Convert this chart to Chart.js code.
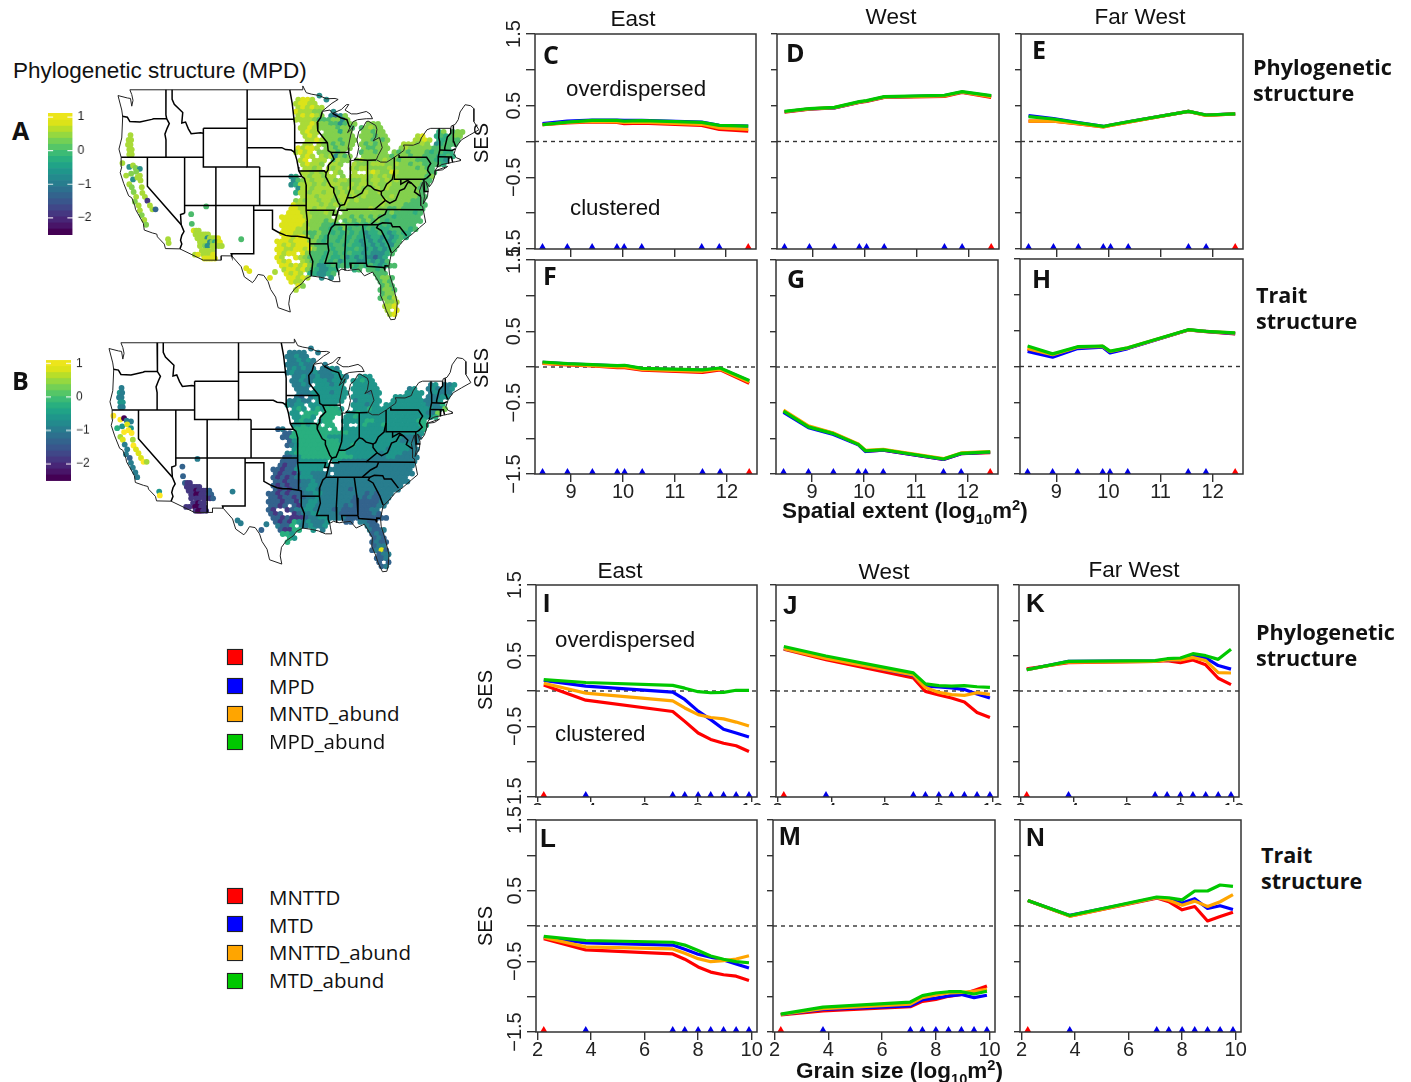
<!DOCTYPE html>
<html><head><meta charset="utf-8">
<script src="https://cdn.jsdelivr.net/npm/chart.js@4"></script>
<style>
html,body{margin:0;padding:0;background:#fff;width:1411px;height:1082px;overflow:hidden}
canvas{position:absolute;display:block}
.t{position:absolute;white-space:nowrap;color:#111;line-height:1;transform:translateY(-50%)}
.r{position:absolute;white-space:nowrap;color:#111;line-height:1;transform:translate(-50%,-50%) rotate(-90deg)}
.s{position:absolute;width:14px;height:14px;border:1.5px solid #222;box-shadow:0 0 1px #999}
sub,sup{font-size:65%;line-height:0}
</style></head><body>
<script>
// ---------- line panels: x positions ----------
const EXTENT_X=[8.45,8.93,9.41,9.89,10.03,10.37,11.53,11.87,12.43];
const GRAIN_X=[2.23,3.8,7.05,7.5,8,8.47,8.95,9.42,9.9];
const EXTENT_TICK_COLORS=['b','b','b','b','b','b','b','b','r'];
const GRAIN_TICK_COLORS=['r','b','b','b','b','b','b','b','b'];
// ---------- series: red, blue, orange, green ----------
const C_red=[.235,.26,.275,.265,.25,.255,.225,.17,.145];
const C_blue=[.25,.285,.30,.30,.295,.295,.27,.225,.215];
const C_orange=[.235,.265,.28,.275,.265,.27,.24,.19,.17];
const C_green=[.234,.27,.295,.295,.285,.29,.266,.224,.215];
const D_red=[.41,.45,.47,.545,.56,.615,.63,.685,.615];
const D_blue=[.415,.455,.47,.55,.565,.62,.64,.69,.635];
const D_orange=[.415,.455,.473,.55,.565,.62,.635,.69,.625];
const D_green=[.42,.46,.477,.556,.57,.626,.645,.696,.64];
const E_red=[.285,.285,.245,.205,.225,.27,.42,.365,.385];
const E_blue=[.36,.32,.265,.21,.23,.276,.42,.37,.385];
const E_orange=[.285,.285,.25,.205,.225,.27,.42,.365,.385];
const E_green=[.348,.314,.262,.21,.23,.276,.42,.37,.385];
const F_red=[.05,.03,.015,-.01,-.01,-.045,-.075,-.04,-.23];
const F_blue=[.065,.045,.03,.015,.02,-.025,-.045,-.02,-.195];
const F_orange=[.055,.035,.02,0,0,-.035,-.06,-.03,-.21];
const F_green=[.07,.047,.033,.02,.024,-.02,-.04,-.014,-.19];
const G_red=[-.615,-.835,-.93,-1.085,-1.18,-1.165,-1.295,-1.215,-1.2];
const G_blue=[-.635,-.85,-.945,-1.09,-1.185,-1.165,-1.295,-1.215,-1.195];
const G_orange=[-.605,-.825,-.925,-1.08,-1.17,-1.155,-1.285,-1.205,-1.185];
const G_green=[-.62,-.84,-.934,-1.085,-1.175,-1.16,-1.29,-1.21,-1.19];
const H_red=[.24,.16,.26,.28,.20,.255,.51,.485,.455];
const H_blue=[.21,.13,.25,.27,.19,.25,.51,.49,.46];
const H_orange=[.25,.165,.27,.28,.21,.26,.51,.49,.465];
const H_green=[.286,.176,.276,.286,.214,.262,.514,.49,.47];
const I_red=[.085,-.13,-.29,-.43,-.595,-.685,-.74,-.775,-.857];
const I_blue=[.15,.07,-.015,-.12,-.285,-.405,-.54,-.595,-.65];
const I_orange=[.11,-.03,-.14,-.24,-.335,-.375,-.395,-.44,-.495];
const I_green=[.16,.12,.08,.04,-.01,-.025,-.02,.01,.01];
const J_red=[.59,.443,.186,-.005,-.057,-.1,-.157,-.305,-.376];
const J_blue=[.60,.47,.22,.067,.057,.043,.02,-.043,-.1];
const J_orange=[.60,.46,.228,.048,-.02,-.052,-.062,-.024,-.048];
const J_green=[.63,.495,.257,.10,.076,.07,.076,.06,.05];
const K_red=[.315,.40,.42,.43,.40,.44,.37,.18,.09];
const K_blue=[.30,.42,.425,.44,.445,.505,.47,.36,.31];
const K_orange=[.30,.41,.42,.44,.44,.475,.43,.26,.255];
const K_green=[.30,.42,.43,.457,.467,.528,.50,.448,.59];
const L_red=[-.18,-.338,-.395,-.47,-.58,-.652,-.69,-.71,-.77];
const L_blue=[-.157,-.238,-.27,-.33,-.40,-.44,-.48,-.538,-.595];
const L_orange=[-.162,-.295,-.324,-.386,-.462,-.505,-.49,-.467,-.42];
const L_green=[-.148,-.205,-.23,-.27,-.348,-.424,-.47,-.505,-.52];
const M_red=[-1.257,-1.2,-1.143,-1.067,-1.038,-.995,-.967,-.914,-.848];
const M_blue=[-1.252,-1.18,-1.13,-1.043,-1.02,-.99,-.97,-1.014,-.98];
const M_orange=[-1.252,-1.17,-1.105,-1.014,-.976,-.948,-.938,-.924,-.895];
const M_green=[-1.248,-1.148,-1.076,-.986,-.948,-.93,-.93,-.962,-.924];
const N_red=[.36,.14,.395,.345,.229,.276,.071,.133,.195];
const N_blue=[.362,.15,.40,.37,.324,.386,.248,.286,.233];
const N_orange=[.36,.14,.40,.365,.295,.352,.276,.343,.443];
const N_green=[.362,.148,.41,.40,.37,.495,.495,.58,.56];
const Y_TICK_LABELS={'1.5':'1.5','0.5':'0.5','-0.5':'−0.5','-1.5':'−1.5'};
const LEGEND_PHYLO=['MNTD','MPD','MNTD_abund','MPD_abund'];
const LEGEND_TRAIT=['MNTTD','MTD','MNTTD_abund','MTD_abund'];
const SERIES_COLORS={red:'#ff0000',blue:'#0000ff',orange:'#ffa500',green:'#00c800'};

// ---------- map data (lon / lat) ----------
const COAST=[[-124.7,48.4],[-123.2,48.15],[-122.7,48.1],[-122.5,47.3],[-122.3,47.9],[-122.5,48.5],[-122.8,49],[-95.15,49],[-95.15,49.4],[-94.6,48.7],[-93.8,48.55],[-92.5,48.4],[-91.4,48.07],[-90,48.1],[-89.5,48],[-90.5,47.6],[-92.1,46.75],[-90.8,46.9],[-90.4,46.55],[-89,46.95],[-88.2,47.45],[-87.8,47.47],[-88.4,46.9],[-87.4,46.5],[-86.5,46.5],[-85,46.75],[-84.4,46.5],[-84,46],[-85,46],[-86.4,45.9],[-87.1,45.7],[-87.6,45.1],[-88,44.55],[-87.4,44.9],[-87.05,45.25],[-87.5,44.3],[-87.9,43],[-87.8,42.3],[-87.5,41.7],[-87,41.65],[-86.5,42.1],[-86.2,43],[-86.5,43.8],[-86.2,44.7],[-85.6,45],[-85,45.7],[-84.7,45.75],[-83.5,45.3],[-83.3,44.9],[-83.5,44.1],[-83.9,43.7],[-82.9,44.05],[-82.45,43],[-83.1,42.2],[-83.4,41.75],[-82.7,41.5],[-81.7,41.5],[-80.5,42],[-79,42.7],[-78.9,43],[-79.05,43.27],[-77.5,43.25],[-76.5,43.5],[-76.2,44],[-75.3,44.85],[-74.7,45],[-71.5,45],[-71.4,45.25],[-70.8,45.4],[-70.3,45.9],[-70,46.7],[-69.2,47.45],[-68.3,47.35],[-67.8,47.05],[-67.8,45.7],[-67,44.85],[-68.5,44.3],[-69.8,43.8],[-70.6,43.1],[-70.8,42.7],[-71,42.3],[-70.6,41.95],[-70,41.8],[-69.95,41.65],[-70.7,41.55],[-71.4,41.45],[-72.9,41.25],[-73.7,40.95],[-74,40.6],[-74,40.2],[-74.4,39.4],[-74.9,38.95],[-75.5,39.5],[-75.1,38.7],[-75.2,38],[-75.9,37.15],[-75.7,37.9],[-76,39.4],[-76.5,38.5],[-76.3,37.9],[-76.3,37],[-76,36.9],[-75.5,35.25],[-76.5,34.7],[-77.9,33.9],[-79,33.4],[-80.2,32.5],[-81,32],[-81.4,30.7],[-81.3,29.9],[-80.6,28.4],[-80.05,26.9],[-80.2,25.7],[-80.4,25.2],[-81.1,25.15],[-81.8,26.1],[-82.2,26.9],[-82.8,27.8],[-82.7,28.7],[-83.4,29.5],[-84,30.1],[-85.3,29.7],[-86.2,30.4],[-87.5,30.3],[-88,30.25],[-88.9,30.4],[-89.5,30.2],[-89.4,29.8],[-89.2,29.1],[-90.2,29.1],[-91.3,29.4],[-92.3,29.55],[-93.8,29.7],[-94.7,29.4],[-95.3,28.9],[-96.4,28.4],[-97.2,27.7],[-97.4,26.8],[-97.15,25.95],[-99.1,26.4],[-99.5,27.5],[-100.3,28.3],[-100.7,29.1],[-101.4,29.75],[-102.3,29.85],[-102.8,29.3],[-103.2,29],[-104.5,29.6],[-105,30.65],[-106.5,31.77],[-108.2,31.78],[-108.2,31.33],[-111.07,31.33],[-114.8,32.5],[-117.12,32.53],[-117.3,33],[-118.4,33.75],[-118.5,34.03],[-119.2,34.15],[-120.5,34.45],[-120.65,35.15],[-121.9,36.6],[-122,36.95],[-122.5,37.8],[-123,38],[-123.8,39.3],[-124.35,40.4],[-124.1,41],[-124.2,42],[-124.55,42.85],[-124.1,44],[-123.95,46.2],[-124.1,46.9],[-124.7,48.4]];
const LONG_ISLAND=[[-74,40.6],[-72,41.05],[-72.8,40.7],[-74,40.6]];
const STATE_LINES=[
[[-124,46.25],[-123.2,46.15],[-122.8,45.7],[-121.2,45.65],[-119.3,45.93],[-119,46],[-116.92,46]],
[[-117.03,49],[-117.04,46.4],[-116.92,46],[-116.5,45.5],[-116.85,45],[-117.2,44.4],[-117.03,43.8],[-117.03,42]],
[[-124.2,42],[-111.05,42]],
[[-116.05,49],[-116.05,48],[-115.7,47.5],[-114.35,46.65],[-114.5,45.55],[-113.9,45.65],[-113.45,44.95],[-113,44.45],[-111.5,44.55],[-111.05,44.5]],
[[-111.05,45],[-104.05,45]],[[-111.05,45],[-111.05,41],[-104.05,41]],[[-104.05,49],[-104.05,41],[-102.05,41]],
[[-104.05,45.94],[-96.56,45.94]],
[[-97.23,49],[-96.85,47.6],[-96.56,45.94],[-96.45,45.3],[-96.45,42.5]],
[[-104.05,43],[-98.5,43],[-97.9,42.8],[-97,42.75],[-96.45,42.5],[-96.1,41.7],[-95.9,41],[-95.8,40.6],[-95.3,40],[-94.9,39.8],[-94.6,39.1],[-94.62,36.5],[-94.43,35.4],[-94.48,33.65]],
[[-102.05,41],[-102.05,37]],[[-102.05,40],[-95.3,40]],[[-109.05,41],[-109.05,31.33]],[[-114.05,42],[-114.05,36.2]],
[[-114.05,37],[-94.62,37]],
[[-120,42],[-120,39],[-114.6,35],[-114.15,34.3],[-114.5,33.9],[-114.7,33.4],[-114.5,33],[-114.8,32.5]],
[[-114.05,36.2],[-114.7,36.05],[-114.6,35]],
[[-103,37],[-103,32],[-106.6,32],[-106.5,31.77]],
[[-103,36.5],[-100,36.5],[-100,34.56],[-99,34.2],[-97.9,33.9],[-97,33.8],[-96,33.8],[-94.48,33.65],[-94.04,33.55],[-94.04,32],[-93.55,31.2],[-93.7,30.3],[-93.8,29.7]],
[[-94.04,33.02],[-91.15,33.02]],
[[-94.62,36.5],[-90.15,36.5],[-90.35,36],[-89.7,36]],
[[-95.77,40.58],[-91.73,40.6],[-91.42,40.38]],[[-96.45,43.5],[-91.22,43.5]],
[[-92.05,46.7],[-92.3,46.1],[-92.85,45.6],[-92.75,44.75],[-91.22,43.5],[-91.1,42.7],[-90.65,42.5],[-90.15,41.8],[-91.05,41.2],[-91.1,40.7],[-91.42,40.38],[-91.5,40],[-90.7,39],[-90.2,38.8],[-90.2,38.4],[-89.5,37.3],[-89.15,37],[-89.5,36.5],[-89.7,36],[-90.1,35],[-90.6,34.7],[-91.1,33.9],[-91.15,33],[-91,32.3],[-91.6,31],[-89.75,31],[-89.75,30.6],[-89.55,30.2]],
[[-90.65,42.5],[-87.8,42.5]],
[[-90.4,46.55],[-89.1,46.1],[-88.1,45.9],[-87.8,45.35],[-87.6,45.1]],
[[-87.53,41.7],[-87.53,39.35],[-87.6,38.7],[-88.05,37.8]],
[[-89.15,37],[-88.5,37.1],[-88.05,37.8],[-87.1,37.8],[-86.5,38],[-85.7,38.3],[-85.4,38.7],[-84.8,39.1],[-84.3,39],[-83.7,38.65],[-82.6,38.45],[-82.2,38.6],[-81.75,39.2],[-80.85,39.7],[-80.52,40.64]],
[[-84.8,41.7],[-84.8,39.1]],[[-87,41.76],[-84.8,41.7],[-83.45,41.73]],
[[-80.52,42],[-80.52,39.72],[-75.8,39.72],[-75.4,39.8]],
[[-79.76,42.27],[-79.76,42],[-75.35,42],[-74.7,41.36],[-75.1,40.95],[-75.2,40.65],[-74.75,40.2],[-75.4,39.8]],
[[-75.8,39.72],[-75.7,38.46],[-75.05,38.45]],
[[-79.48,39.72],[-79.48,39.2],[-78.4,39.6],[-77.75,39.3],[-77.05,38.85],[-77.3,38.4],[-76.3,37.95]],
[[-77.75,39.3],[-78.35,39.4],[-78.9,38.75],[-79.65,38.55],[-80.3,37.55],[-81.25,37.25],[-81.95,37.53]],
[[-82.6,38.45],[-82.6,38.1],[-81.95,37.53],[-83.68,36.6],[-88.07,36.6],[-88.07,36.5],[-89.5,36.5]],
[[-83.68,36.6],[-81.7,36.59],[-75.9,36.55]],
[[-81.7,36.59],[-82,36.1],[-83,35.75],[-84.32,35]],
[[-90.1,35],[-83.1,35],[-82.4,35.2],[-81.05,35.15],[-80.8,34.8],[-79.67,34.8],[-78.55,33.86]],
[[-83.1,35],[-83.35,34.7],[-82.6,34.4],[-81.5,33],[-81,32.1]],
[[-85.6,34.98],[-85.15,32.85],[-85,31],[-84.87,30.7],[-82.2,30.57],[-82.05,30.35],[-82,30.75],[-81.45,30.72]],
[[-85,31],[-87.6,31],[-87.45,30.4]],
[[-88.2,35],[-88.45,31.9],[-88.4,30.25]],
[[-73.35,45],[-73.4,44],[-73.25,43.6],[-73.25,42.75],[-73.5,42.05],[-73.5,41.3],[-73.7,41]],
[[-71.5,45],[-71.5,44.5],[-72.05,44.1],[-72.45,43],[-72.46,42.73]],
[[-73.25,42.75],[-71.3,42.7],[-70.8,42.87]],
[[-70.7,43.1],[-71,43.6],[-71.08,45.3]],
[[-73.5,42.05],[-71.38,42.02],[-71.2,41.5]],
[[-71.8,42.02],[-71.85,41.32]]
];
// West cells shared by both maps: [lon,lat]
const WEST_CELLS=[[-122.7,44.3],[-123,43.8],[-122.6,43.8],[-123.1,43.3],[-122.7,43.3],[-122.9,42.8],[-122.5,42.8],[-122.9,42.3],[-122.5,42.3],
[-124,41.4],[-122.9,41],[-122.3,41.15],[-121.9,40.9],[-121.2,40.8],[-123.4,40.1],[-122.6,40.3],[-121.8,40.5],[-121.2,40.1],[-122.3,39.7],[-121.6,39.9],[-122.9,39.2],[-121.1,39.6],[-122.5,38.9],[-120.9,38.9],[-122.2,38.4],[-120.8,38.3],[-121.8,37.9],[-120.4,37.9],[-122,37.4],[-120,37.5],[-121.4,37],[-119.6,37],[-119.2,36.6],[-118.7,36.6],[-121.2,36.5],[-120.9,36],[-120.5,35.5],[-120.2,35],
[-116.7,33.5],[-116.6,33.1],
[-110.6,36.9],[-113,36.1],[-112.9,35.1],[-112.6,34.4],[-112.2,34.4],[-111.8,34.4],[-112.3,34],[-111.9,34],[-111.5,34],[-111.1,34],[-110.7,34],[-110.3,34],
[-112,33.6],[-111.6,33.6],[-111.2,33.6],[-110.8,33.6],[-110.4,33.6],[-110,33.6],[-109.6,33.6],[-109.2,33.6],[-108.7,33.6],
[-111.6,33.2],[-111.2,33.2],[-110.8,33.2],[-110.4,33.2],[-110,33.2],[-109.6,33.2],[-109.2,33.2],[-108.8,33.2],[-108.4,33.2],
[-111.6,32.8],[-110.8,32.8],[-110.4,32.8],[-109.6,32.8],[-109.2,32.8],[-108.6,32.8],[-108.1,32.8],
[-111.3,32.3],[-110.9,32.3],[-110.5,32.3],[-110.1,32.3],[-109.6,32.3],[-112.4,31.9],[-111.9,31.9],[-111,31.9],[-110.5,31.9],[-110,31.9],[-109.5,31.9],
[-110.9,31.5],[-110.5,31.5],[-110.1,31.5],[-109.7,31.5],[-109.2,31.5],[-105,33.5],[-104.2,30.5],[-103.7,30.2],[-100.4,29.5],[-99.6,30.1]];
const WEST_A_LEVELS='777777777'+'73763'+'766737'+'776767'+'77617772'+'7676'+'77'+'555'+'877'+'777777'+'777737778'+'777736478'+'7637777'+'77777'+'787778'+'88888'+'58887';
const WEST_B_LEVELS='343334433'+'99033'+'548499'+'798739'+'38382897'+'3333'+'49'+'322'+'211'+'111111'+'111011112'+'110011122'+'1111112'+'11011'+'110011'+'10011'+'33323';
// East rows. Row n: lat = 48.4-0.42n; column c: lon = -100+0.75c (half a column on odd rows). Pairs: start column, level string
const EAST_A=[
[10,'3'],[5,'7887',11,'3'],[5,'78877'],[5,'787877'],[5,'877766',13,'3'],[5,'787876',12,'3236'],[5,'777765',11,'556636'],
[6,'77876',11,'6553566',20,'666'],[6,'77876',11,'6665665',19,'56766'],[6,'7877',11,'666466',19,'66566',35,'46',38,'566'],
[7,'787',11,'6666666',19,'666566',31,'78',35,'454',38,'566'],[7,'7787',11,'6665666',19,'665656',30,'7787',35,'44555'],
[7,'77',10,'76656566',19,'656566',28,'777676',35,'34555'],[5,'87887',11,'665666',19,'655666',27,'67666665555'],
[5,'7878',10,'666656',19,'566566',26,'6565666545544'],[6,'787',10,'7673',14,'656',19,'666666',25,'56665665554454'],
[6,'78',9,'777',13,'5766',18,'6766667',25,'6656665555443'],[6,'78776',12,'77',14,'6',17,'76667776676656655554'],
[7,'7767',12,'767',17,'767',20,'766667666665655'],[6,'776767',13,'76',17,'7',20,'787668766666655'],
[4,'34',7,'7677677',15,'6',17,'7777',21,'6767',25,'6766666656'],
[4,'35',6,'6767767677666767767676666655'],[4,'34',6,'7776767776676776766766666655'],[5,'3',6,'776777767676766676766666655'],
[5,'47',7,'76776776767667667666666665'],[6,'777677767767676666676666655'],[5,'6767767766776766666766666555'],
[4,'87777767676766666667666655555'],[4,'8877767766',15,'666666766655655555'],[3,'88877666766',15,'66666666656555545'],
[2,'88888776666',14,'666565656555455555'],[2,'888887666566',15,'56565656545555555'],
[2,'88888766655456554545545455555'],[2,'88877766554546455454544555545'],[2,'8887765565545454543445434544'],[2,'887887565455454544344343454'],
[1,'888788866545545454343434345'],[1,'87878886555455454434343435'],[1,'88778878655545544543434345'],
[1,'8788',6,'86555454545443433345'],[1,'87',5,'87655545445343433234'],[1,'878',6,'7655454534443343435'],
[2,'887878',8,'6533454545454543455'],[2,'78878',7,'6543344',17,'45',20,'5545'],[3,'8787',8,'443345',22,'555'],
[3,'88787',10,'3',12,'3',22,'5665'],[4,'877',23,'565'],[5,'86',23,'565'],[5,'7',23,'5665'],[23,'566'],[23,'5657'],[24,'667'],[24,'778'],[24,'7',26,'8'],[25,'78']
];
const EAST_B=[
[10,'3'],[5,'3333',11,'3'],[5,'33433'],[5,'334343'],[5,'333433',13,'3'],[5,'343433',12,'3343'],[5,'343333',11,'433344'],
[6,'33433',11,'4333443',20,'444'],[6,'33433',11,'4443444',19,'44544'],[6,'3343',11,'444344',19,'44444',35,'34',38,'334'],
[7,'333',11,'4444444',19,'444444',31,'34',35,'343',38,'334'],[7,'3334',11,'4443444',19,'444344',30,'4444',35,'34333'],
[7,'32',10,'34444444',19,'444444',28,'444444',35,'33344'],[5,'33433',11,'444444',19,'344444',27,'44444443334'],
[5,'4344',10,'444444',19,'444344',26,'4444444443335'],[6,'454',10,'4545',14,'554',19,'444544',25,'44444444444336'],
[6,'44',9,'555',13,'5555',18,'4454444',25,'4444444444336'],[6,'44554',12,'55',14,'5',17,'44544444444444444445'],
[7,'4544',12,'455',17,'444',20,'445544444444455'],[6,'445455',13,'55',17,'4',20,'454445444444455'],
[3,'23',7,'5555555',15,'5',17,'4444',21,'4444',25,'4444444445'],
[4,'22',6,'5555555555554444444444444444'],[4,'22',6,'5555555544444444444444443333'],[5,'2',6,'455555555544444444444443333'],
[5,'23',7,'45555555554454444444444443'],[6,'455555555544444444443444433'],[5,'3455555555555444444434444333'],
[4,'22345555555555544443334433333'],[4,'2222444444',15,'443333333333333333'],[3,'21224444444',15,'33333333333333333'],
[2,'22122444444',14,'333333333333333333'],[2,'212213443333',15,'33333333333333333'],
[2,'21212344433333333333333333333'],[2,'22122233433333333333333333333'],[2,'2121223344333333333333333333'],[2,'212122344333333323333333333'],
[1,'221212223344333333333232333'],[1,'22122122334333333323232233'],[1,'22212213344333333322222233'],
[1,'2212',6,'21344333333232222233'],[1,'21',5,'12334433332322222233'],[1,'212',6,'1233443333222222232'],
[2,'221211',8,'1233443333222222222'],[2,'21215',7,'4343334',17,'22',20,'3322'],[3,'3225',8,'334334',22,'322'],
[3,'21155',10,'4',12,'3',22,'3223'],[4,'554',23,'232'],[5,'54',23,'232'],[5,'5',23,'2322'],[23,'233'],[23,'2382'],[24,'233'],[24,'223'],[24,'2',26,'2'],[25,'23']
];
const LEVEL_COLORS_A=['#440154','#453781','#33638d','#2a8f8a','#2fae80','#4cbb6c','#83d04d','#a9da38','#dce319','#fde725'];
const LEVEL_COLORS_B=['#440154','#453781','#33638d','#287d8e','#1f968b','#29af7f','#73d055','#a5d93a','#dce319','#fde725'];
const COLORBAR_BREAKS=[-2.51,-2.33,-2.15,-1.97,-1.79,-1.61,-1.43,-1.25,-1.07,-.89,-.71,-.53,-.35,-.17,.01,.19,.37,.55,.73,.91,1.12];
const COLORBAR_COLORS=['#440154','#481568','#482677','#453781','#404788','#39568c','#33638d','#2d708e','#287d8e','#238a8d','#1f968b','#20a387','#29af7f','#3cbb75','#55c667','#73d055','#95d840','#b8de29','#dce319','#ece51b'];

// ---------- helpers ----------
function text(html,x,y,size,fam,bold){const d=document.createElement('div');d.className='t';d.innerHTML=html;d.style.cssText=`left:${x}px;top:${y}px;font:${bold?'bold ':''}${size}px ${fam}`;document.body.appendChild(d);return d}
function rot(html,x,y,size){const d=document.createElement('div');d.className='r';d.innerHTML=html;d.style.cssText=`left:${x}px;top:${y}px;font:${size}px ${LIB}`;document.body.appendChild(d)}
function mk(l,t,w,h){const c=document.createElement('canvas');c.width=w;c.height=h;c.style.left=l+'px';c.style.top=t+'px';c.style.width=w+'px';c.style.height=h+'px';document.body.appendChild(c);return c.getContext('2d')}
const LIB="'Liberation Sans',Arial,sans-serif",OS="'Open Sans',sans-serif";
const boxPlugin={id:'box',afterDatasetsDraw(ch){const a=ch.chartArea,x=ch.ctx;x.save();x.strokeStyle='#333';x.lineWidth=1.5;x.strokeRect(a.left,a.top,a.right-a.left,a.bottom-a.top);x.restore()}};

function panel(p){
 const third=p.row==='third';
 const mL=46,mT=26,mR=18,mB=p.xlabels?42:(p.row==='top'?9:8);
 const w=Math.round(p.R-p.L+mL+mR),h=Math.round(p.B-p.T+mT+mB);
 const ctx=mk(p.L-mL,p.T-mT,w,h);
 const xs=p.xs,xr=p.xlim;
 const toPts=v=>v.map((y,i)=>({x:xs[i],y}));
 const ds=[
  {data:xs.map(x=>({x,y:-1.472})),showLine:false,pointStyle:'triangle',pointRadius:4,pointBorderWidth:0,pointBackgroundColor:p.tri.map(c=>c==='r'?'#ff0000':'#0000e6'),clip:false},
  {data:toPts(p.s[3]),borderColor:SERIES_COLORS.green},
  {data:toPts(p.s[2]),borderColor:SERIES_COLORS.orange},
  {data:toPts(p.s[1]),borderColor:SERIES_COLORS.blue},
  {data:toPts(p.s[0]),borderColor:SERIES_COLORS.red},
  {data:[{x:xr[0],y:0},{x:xr[1],y:0}],borderColor:'#333',borderWidth:1.4,borderDash:[4,4]}
 ];
 ds.forEach((d,i)=>{if(i>0){d.showLine=true;d.pointRadius=0;d.tension=0;if(i<5){d.borderWidth=3.2;d.borderJoinStyle='round'}}});
 new Chart(ctx,{type:'scatter',data:{datasets:ds},plugins:[boxPlugin],options:{
  responsive:false,animation:false,events:[],
  layout:{autoPadding:false,padding:{top:mT,right:mR,left:0,bottom:0}},
  plugins:{legend:{display:false},tooltip:{enabled:false}},
  scales:{
   x:{type:'linear',min:xr[0],max:xr[1],afterFit(s){s.height=mB;s.paddingLeft=0;s.paddingRight=0},
      border:{display:false},grid:{drawOnChartArea:false,drawTicks:true,tickLength:third?5:8,tickColor:'#333',lineWidth:1.4},
      ticks:{stepSize:p.step,includeBounds:false,autoSkip:false,maxRotation:0,minRotation:0,display:!!p.xlabels||third,color:'#222',padding:third?-3:-2,font:{size:20,family:LIB}}},
   y:{type:'linear',min:-1.5,max:1.5,afterFit(s){s.width=mL;s.paddingTop=0;s.paddingBottom=0},
      border:{display:false},grid:{drawOnChartArea:false,drawTicks:true,tickLength:p.ylabels?9:6,tickColor:'#333',lineWidth:1.4},
      ticks:{stepSize:.5,autoSkip:false,display:!!p.ylabels,minRotation:90,maxRotation:90,crossAlign:'center',padding:-8,color:'#222',font:{size:20,family:LIB},
        callback:v=>Y_TICK_LABELS[String(v)]||''}}
  }}});
}

const EXT=[8.305,12.58],GR=[1.94,10.2];
const PANELS=[
 {L:534.7,R:756,T:34,B:248.7,xs:EXTENT_X,tri:EXTENT_TICK_COLORS,xlim:EXT,step:1,ylabels:1,row:'top',s:[C_red,C_blue,C_orange,C_green]},
 {L:777.3,R:999.3,T:34,B:248.7,xs:EXTENT_X,tri:EXTENT_TICK_COLORS,xlim:EXT,step:1,row:'top',s:[D_red,D_blue,D_orange,D_green]},
 {L:1020.7,R:1243,T:33.5,B:248.3,xs:EXTENT_X,tri:EXTENT_TICK_COLORS,xlim:EXT,step:1,row:'top',s:[E_red,E_blue,E_orange,E_green]},
 {L:535,R:757.3,T:259.7,B:474,xs:EXTENT_X,tri:EXTENT_TICK_COLORS,xlim:EXT,step:1,ylabels:1,xlabels:1,s:[F_red,F_blue,F_orange,F_green]},
 {L:776.3,R:998.7,T:259.7,B:474,xs:EXTENT_X,tri:EXTENT_TICK_COLORS,xlim:EXT,step:1,xlabels:1,s:[G_red,G_blue,G_orange,G_green]},
 {L:1019.5,R:1242.3,T:259.3,B:474.3,xs:EXTENT_X,tri:EXTENT_TICK_COLORS,xlim:EXT,step:1,xlabels:1,s:[H_red,H_blue,H_orange,H_green]},
 {L:536,R:757,T:585,B:797,xs:GRAIN_X,tri:GRAIN_TICK_COLORS,xlim:GR,step:2,ylabels:1,row:'third',s:[I_red,I_blue,I_orange,I_green]},
 {L:776,R:998,T:585,B:797,xs:GRAIN_X,tri:GRAIN_TICK_COLORS,xlim:GR,step:2,row:'third',s:[J_red,J_blue,J_orange,J_green]},
 {L:1019,R:1239,T:585,B:797,xs:GRAIN_X,tri:GRAIN_TICK_COLORS,xlim:GR,step:2,row:'third',s:[K_red,K_blue,K_orange,K_green]},
 {L:536,R:757,T:820,B:1032,xs:GRAIN_X,tri:GRAIN_TICK_COLORS,xlim:GR,step:2,ylabels:1,xlabels:1,s:[L_red,L_blue,L_orange,L_green]},
 {L:773,R:995,T:820,B:1032,xs:GRAIN_X,tri:GRAIN_TICK_COLORS,xlim:GR,step:2,xlabels:1,s:[M_red,M_blue,M_orange,M_green]},
 {L:1019.5,R:1240,T:820,B:1032.3,xs:GRAIN_X,tri:GRAIN_TICK_COLORS,xlim:GR,step:2,xlabels:1,s:[N_red,N_blue,N_orange,N_green]}
];
PANELS.forEach(panel);

// ---------- maps ----------
function hexPoints(rows,westLevels,palette){
 const pts=[],cols=[];
 rows.forEach((row,n)=>{const lat=48.4-0.42*n,off=n%2?0.375:0;
  for(let k=0;k<row.length;k+=2){const st=row[k],s=row[k+1];
   for(let j=0;j<s.length;j++){pts.push({x:-100+0.75*(st+j)+off,y:lat});cols.push(palette[+s[j]])}}});
 WEST_CELLS.forEach((c,i)=>{const l=westLevels[i];if(l===undefined)return;pts.push({x:c[0],y:c[1]});cols.push(palette[+l])});
 return {pts,cols};
}
function usMap(l,t,w,h,rows,west,palette){
 const ctx=mk(l,t,w,h),hx=hexPoints(rows,west,palette);
 const lines=[...STATE_LINES.map(a=>({a,bw:1.5,c:'#000'})),{a:COAST,bw:1,c:'#222'},{a:LONG_ISLAND,bw:1,c:'#222'}];
 const ds=lines.map(o=>({data:o.a.map(p=>({x:p[0],y:p[1]})),showLine:true,pointRadius:0,borderColor:o.c,borderWidth:o.bw,tension:0}));
 ds.push({data:hx.pts,showLine:false,pointStyle:'circle',pointRadius:2.9,pointBorderWidth:0,pointBackgroundColor:hx.cols});
 new Chart(ctx,{type:'scatter',data:{datasets:ds},options:{responsive:false,animation:false,events:[],layout:{autoPadding:false,padding:0},
  plugins:{legend:{display:false},tooltip:{enabled:false}},
  scales:{x:{type:'linear',display:false,min:-125.5,max:-66.5},y:{type:'linear',display:false,min:24.5,max:49.6}}}});
}
usMap(113.3,83.5,369,242,EAST_A,WEST_A_LEVELS,LEVEL_COLORS_A);
usMap(103.8,337,370,241,EAST_B,WEST_B_LEVELS,LEVEL_COLORS_B);

function colorbar(l,t,barW,h,min,max){
 const ctx=mk(l,t-6,barW+34,h+18);
 const ds=COLORBAR_COLORS.map((c,i)=>({data:[[COLORBAR_BREAKS[i],COLORBAR_BREAKS[i+1]]],backgroundColor:c,grouped:false,barPercentage:1,categoryPercentage:1,borderWidth:0}));
 new Chart(ctx,{type:'bar',data:{labels:[''],datasets:ds},plugins:[{id:'dash',afterDatasetsDraw(ch){const y=ch.scales.y,a=ch.chartArea,x=ch.ctx;x.save();x.strokeStyle='rgba(255,255,255,.85)';x.lineWidth=1.2;[-2,-1,0,1].forEach(v=>{const p=y.getPixelForValue(v);x.beginPath();x.moveTo(a.left,p);x.lineTo(a.left+5,p);x.moveTo(a.right-5,p);x.lineTo(a.right,p);x.stroke()});x.restore()}}],
 options:{responsive:false,animation:false,events:[],layout:{autoPadding:false,padding:{top:6,bottom:12,left:0,right:0}},
  plugins:{legend:{display:false},tooltip:{enabled:false}},
  scales:{x:{display:false},y:{position:'right',min,max,afterFit(s){s.width=34;s.paddingTop=0;s.paddingBottom=0},border:{display:false},grid:{display:false,drawTicks:false},
   ticks:{stepSize:1,includeBounds:false,padding:5,color:'#222',font:{size:12,family:LIB},callback:v=>v<0?'−'+Math.abs(v):String(v)}}}}});
}
colorbar(48,112.7,24.7,122.3,-2.51,1.12);
colorbar(46,360,25,120.7,-2.51,1.1);

// ---------- text ----------
[['East',633,19],['West',891,17],['Far West',1140,17],['East',620,571],['West',884,572],['Far West',1134,570]].forEach(a=>{const d=text(a[0],a[1],a[2],22.5,LIB);d.style.transform='translate(-50%,-50%)'});
[['overdispersed',566,89],['clustered',570,208],['overdispersed',555,640],['clustered',555,734]].forEach(a=>text(a[0],a[1],a[2],22.3,LIB));
[['C',543,54],['D',786,52],['E',1032,49],['F',543,275],['G',787,278],['H',1032,278],['A',12,130],['B',12,380]].forEach(a=>text(a[0],a[1],a[2],25,OS,true));
[['I',543,603],['J',783,605],['K',1026,603],['L',540,838],['M',779,836],['N',1026,837]].forEach(a=>text(a[0],a[1],a[2],26,LIB,true));
[['Phylogenetic',1253,66],['structure',1253,92],['Trait',1256,294],['structure',1256,320],['Phylogenetic',1256,631],['structure',1256,657],['Trait',1261,854],['structure',1261,880]].forEach(a=>text(a[0],a[1],a[2],21.6,OS,true));
text('Spatial extent (log<sub>10</sub>m<sup>2</sup>)',782,511,22.5,LIB,true);
text('Grain size (log<sub>10</sub>m<sup>2</sup>)',796,1071,22.5,LIB,true);
text('Phylogenetic structure (MPD)',13,71,22.5,LIB);
[[481,143],[481,368],[485,690],[485,926]].forEach(a=>rot('SES',a[0],a[1],20));
function legend(labels,ys,ts){labels.forEach((s,i)=>{const d=document.createElement('div');d.className='s';d.style.left='227px';d.style.top=ys[i]+'px';d.style.background=['#ff0000','#0000ff','#ffa500','#00c800'][i];document.body.appendChild(d);text(s,269,ts[i]-1,20.5,OS)})}
legend(LEGEND_PHYLO,[649,677.5,706,734],[659,687,714,742]);
legend(LEGEND_TRAIT,[888,916,945,973],[898,926,953,981]);
</script>
</body></html>
